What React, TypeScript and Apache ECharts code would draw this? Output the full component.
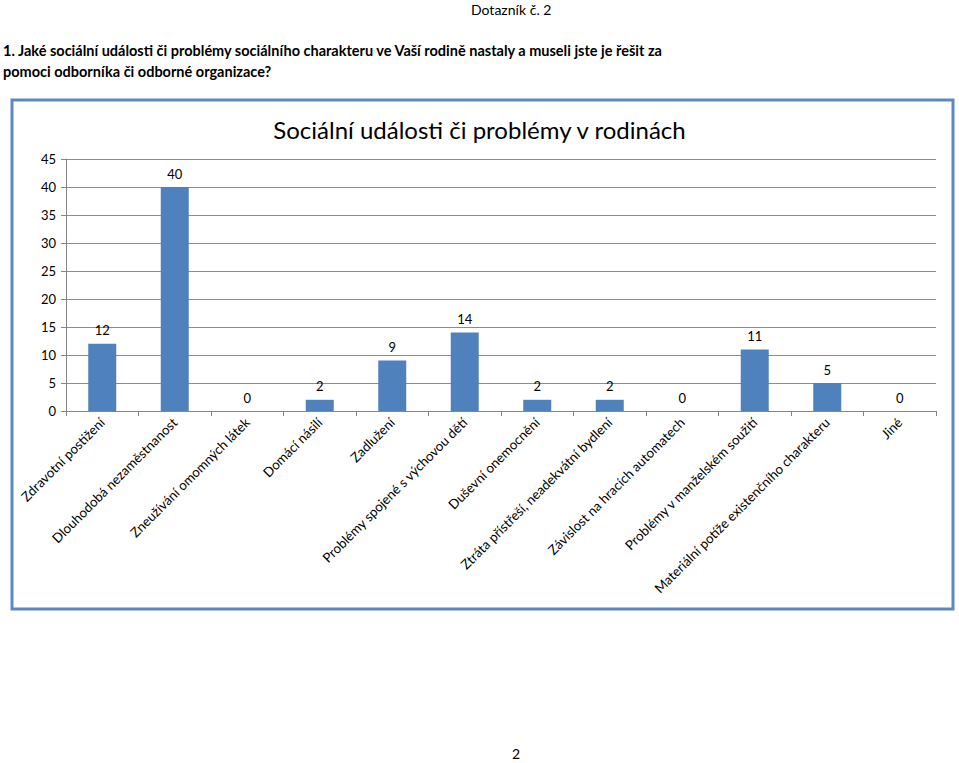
import React, { useEffect, useRef } from "react";
import * as echarts from "echarts";

const categories = [
  "Zdravotní postižení",
  "Dlouhodobá nezaměstnanost",
  "Zneužívání omomných látek",
  "Domácí násilí",
  "Zadlužení",
  "Problémy spojené s výchovou dětí",
  "Duševní onemocnění",
  "Ztráta přístřeší, neadekvátní bydlení",
  "Závislost na hracích automatech",
  "Problémy v manželském soužití",
  "Materiální potíže existenčního charakteru",
  "Jiné",
];
const values = [12, 40, 0, 2, 9, 14, 2, 2, 0, 11, 5, 0];
const chartTitle = "Sociální události či problémy v rodinách";
const pageHeader = "Dotazník č. 2";
const questionLine1 =
  "1. Jaké sociální události či problémy sociálního charakteru ve Vaší rodině nastaly a museli jste je řešit za";
const questionLine2 = "pomoci odborníka či odborné organizace?";
const pageNumber = "2";

const FONT = "Lato, 'Open Sans', sans-serif";

export default function App() {
  const ref = useRef<HTMLDivElement>(null);
  useEffect(() => {
    if (!ref.current) return;
    const chart = echarts.init(ref.current, undefined, { renderer: "svg" });
    chart.setOption({
      animation: false,
      backgroundColor: "#ffffff",
      textStyle: { fontFamily: FONT },
      graphic: [
        {
          type: "rect",
          shape: { x: 12, y: 100, width: 941, height: 509 },
          style: { fill: "none", stroke: "#5f88c0", lineWidth: 3 },
          z: 0,
        },
        {
          type: "text",
          x: 471,
          y: 2,
          style: { text: pageHeader, font: `14px ${FONT}`, fill: "#000" },
        },
        {
          type: "text",
          x: 3,
          y: 43,
          style: { text: questionLine1, font: `bold 14.5px ${FONT}`, fill: "#000" },
        },
        {
          type: "text",
          x: 3,
          y: 64,
          style: { text: questionLine2, font: `bold 14.5px ${FONT}`, fill: "#000" },
        },
        {
          type: "text",
          x: 512,
          y: 746,
          style: { text: pageNumber, font: `14px ${FONT}`, fill: "#000" },
        },
      ],
      title: {
        text: chartTitle,
        left: "center",
        top: 112,
        textStyle: { fontFamily: FONT, fontSize: 24, fontWeight: "normal", color: "#000" },
      },
      grid: { left: 66, right: 23, top: 159, bottom: 352, containLabel: false },
      xAxis: {
        type: "category",
        data: categories,
        axisLine: { show: true, lineStyle: { color: "#868686" } },
        axisTick: { show: true, length: 5, lineStyle: { color: "#868686" } },
        axisLabel: {
          interval: 0,
          rotate: 45,
          margin: 9,
          fontSize: 13.3,
          fontFamily: FONT,
          color: "#000",
        },
      },
      yAxis: {
        type: "value",
        min: 0,
        max: 45,
        interval: 5,
        axisLine: { show: true, lineStyle: { color: "#868686" } },
        axisTick: { show: true, length: 5, lineStyle: { color: "#868686" } },
        axisLabel: { fontSize: 13, fontFamily: FONT, color: "#000", margin: 10 },
        splitLine: { show: true, lineStyle: { color: "#8c8c8c", width: 1 } },
      },
      series: [
        {
          type: "bar",
          data: values,
          barWidth: 28,
          itemStyle: { color: "#4f81bd" },
          label: {
            show: true,
            position: "top",
            distance: 7,
            fontSize: 13,
            fontFamily: FONT,
            color: "#000",
          },
        },
      ],
    });
    return () => chart.dispose();
  }, []);
  return (
    <div
      ref={ref}
      style={{ position: "absolute", left: 0, top: 0, width: 959, height: 763 }}
    />
  );
}
